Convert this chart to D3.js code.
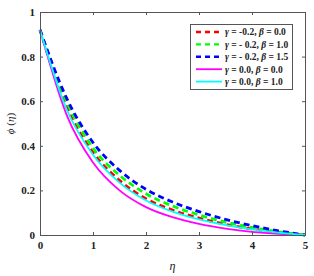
<!DOCTYPE html>
<html>
<head>
<meta charset="utf-8">
<script src="https://cdn.jsdelivr.net/npm/d3@7"></script>
<style>
  body { margin: 0; background: #fff; }
  text { font-family: "Liberation Serif", "DejaVu Serif", serif; }
</style>
</head>
<body>
<div id="chart"></div>
<script>
var etaVals = [0, 0.5, 1, 1.5, 2, 2.5, 3, 3.5, 4, 4.5, 5];
var phiRed     = [0.92, 0.575, 0.37, 0.245, 0.163, 0.112, 0.076, 0.048, 0.027, 0.012, 0];
var phiGreen   = [0.92, 0.60, 0.39, 0.268, 0.185, 0.13, 0.09, 0.058, 0.034, 0.015, 0];
var phiBlue    = [0.92, 0.615, 0.415, 0.29, 0.205, 0.148, 0.105, 0.07, 0.042, 0.019, 0];
var phiMagenta = [0.92, 0.54, 0.325, 0.20, 0.125, 0.08, 0.05, 0.029, 0.014, 0.005, 0];
var phiCyan    = [0.92, 0.565, 0.36, 0.235, 0.155, 0.105, 0.07, 0.044, 0.025, 0.011, 0];
var xTicks = [0, 1, 2, 3, 4, 5];
var yTicks = [0, 0.2, 0.4, 0.6, 0.8, 1];

var series = [
  {g: "-0.2", b: "0.0", vals: phiRed, color: "#ff0000", dash: true},
  {g: "- 0.2", b: "1.0", vals: phiGreen, color: "#00ff00", dash: true},
  {g: "- 0.2", b: "1.5", vals: phiBlue, color: "#0000ff", dash: true},
  {g: " 0.0", b: "0.0", vals: phiMagenta, color: "#ff00ff", dash: false},
  {g: " 0.0", b: "1.0", vals: phiCyan, color: "#00ffff", dash: false}
];

var w = 314, h = 276;
var padL = 40, padR = 305, padT = 12, padB = 235;

var svg = d3.select("#chart").append("svg")
  .attr("width", w).attr("height", h);

var x = d3.scaleLinear().domain([0, 5]).range([padL, padR]);
var y = d3.scaleLinear().domain([0, 1]).range([padB, padT]);

// curves
var line = d3.line()
  .x(function(d) { return x(d[0]); })
  .y(function(d) { return y(d[1]); })
  .curve(d3.curveMonotoneX);

series.forEach(function(s) {
  var pts = etaVals.map(function(e, i) { return [e, s.vals[i]]; });
  svg.append("path")
    .attr("d", line(pts))
    .attr("fill", "none")
    .attr("stroke", s.color)
    .attr("stroke-width", s.dash ? 2.8 : 1.8)
    .attr("stroke-dasharray", s.dash ? "6,4" : null);
});

// axes, ticks inward
var axisCol = "#555";
var gx = svg.append("g").attr("transform", "translate(0," + padB + ")")
  .call(d3.axisBottom(x).tickValues(xTicks).tickSize(-3).tickPadding(6).tickFormat(d3.format("d")));
var gy = svg.append("g").attr("transform", "translate(" + padL + ",0)")
  .call(d3.axisLeft(y).tickValues(yTicks).tickSize(-3).tickPadding(5).tickFormat(function(d) { return d === 0 || d === 1 ? d : d3.format(".1f")(d); }));
var gt = svg.append("g").attr("transform", "translate(0," + padT + ")")
  .call(d3.axisTop(x).tickValues(xTicks).tickSize(-3).tickFormat(""));
var gr = svg.append("g").attr("transform", "translate(" + padR + ",0)")
  .call(d3.axisRight(y).tickValues(yTicks).tickSize(-3).tickFormat(""));

[gx, gy, gt, gr].forEach(function(g) {
  g.selectAll(".domain").attr("stroke", axisCol).attr("stroke-width", 1);
  g.selectAll(".tick line").attr("stroke", axisCol);
  g.selectAll("text").attr("font-family", "Liberation Serif, serif")
    .attr("font-weight", "bold").attr("font-size", 11).attr("fill", "#222");
});

// axis labels
svg.append("text")
  .attr("x", (padL + padR) / 2).attr("y", 270)
  .attr("text-anchor", "middle").attr("font-size", 12)
  .attr("font-style", "italic").attr("fill", "#222").text("η");

svg.append("text")
  .attr("transform", "translate(14," + ((padT + padB) / 2) + ") rotate(-90)")
  .attr("text-anchor", "middle").attr("font-size", 11).attr("fill", "#222")
  .html('<tspan font-style="italic">ϕ</tspan> (<tspan font-style="italic">η</tspan>)');

// legend
var lg = svg.append("g");
lg.append("rect").attr("x", 190.5).attr("y", 24.5).attr("width", 102).attr("height", 65)
  .attr("fill", "#fff").attr("stroke", "#555").attr("stroke-width", 1);

series.forEach(function(s, i) {
  var yy = 32 + i * 12.4;
  lg.append("line").attr("x1", 196).attr("x2", 222).attr("y1", yy).attr("y2", yy)
    .attr("stroke", s.color).attr("stroke-width", s.dash ? 2.4 : 1.8)
    .attr("stroke-dasharray", s.dash ? "5,4" : null);
  var t = lg.append("text").attr("x", 225).attr("y", yy + 3.3)
    .attr("font-size", 9.5).attr("font-weight", "bold").attr("fill", "#222");
  t.append("tspan").attr("font-style", "italic").text("γ");
  t.append("tspan").text(" = " + s.g + ", ");
  t.append("tspan").attr("font-style", "italic").text("β");
  t.append("tspan").text(" = " + s.b);
});
</script>
</body>
</html>
